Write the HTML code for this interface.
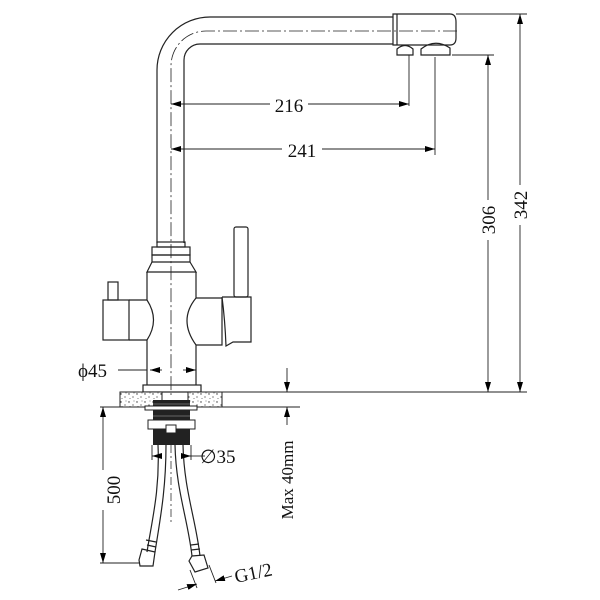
<!DOCTYPE html>
<html><head><style>
html,body{margin:0;padding:0;background:#fff;}
svg{display:block;}
text{font-family:"Liberation Serif",serif;fill:#111;}
</style></head><body>
<svg width="600" height="600" viewBox="0 0 600 600" xmlns="http://www.w3.org/2000/svg">
<defs>
<marker id="a" viewBox="0 0 10 6" refX="10" refY="3" markerWidth="10" markerHeight="6" orient="auto-start-reverse" markerUnits="userSpaceOnUse"><path d="M0,0 L10,3 L0,6 z" fill="#000"/></marker>
<pattern id="sp" width="8" height="8" patternUnits="userSpaceOnUse"><rect width="8" height="8" fill="#fff"/><circle cx="1" cy="2" r="0.7" fill="#333"/><circle cx="5" cy="5" r="0.6" fill="#333"/><circle cx="6" cy="1" r="0.5" fill="#555"/><circle cx="2" cy="6.5" r="0.5" fill="#555"/></pattern>
</defs>
<g fill="none" stroke="#222" stroke-width="1.2">
<!-- spout -->
<path d="M393,17 H210 A53,53 0 0 0 157,70 V243"/>
<path d="M393,44 H200 A16,16 0 0 0 184,60 V243"/>
<path d="M457,31 H206 A35,35 0 0 0 171,66 V395" stroke-dasharray="14,3,2,3" stroke-width="0.8"/>
<!-- head -->
<path d="M393,14 H450 Q456,14 456,22 V38 Q456,45 450,45 H393 Z"/>
<line x1="397" y1="14" x2="397" y2="45"/>
<path d="M397,55 V49 Q405,42 413,49 V55 Z"/>
<path d="M421,55 V49 Q435,38 450,48 V55 Z"/>
<!-- collar -->
<rect x="157" y="242" width="28" height="5"/>
<rect x="152" y="247" width="38" height="8"/>
<path d="M152,255 H190 V262 H152 Z"/>
<path d="M152,262 L147,272 H196 L190,262"/>
<!-- body -->
<path d="M147,272 V300 Q160,320 147,340 V385"/>
<path d="M196,272 V298 Q178,320 196,345 V385"/>
<!-- left arm -->
<rect x="103" y="300" width="26" height="40"/>
<path d="M129,300 H147 M129,340 H147"/>
<rect x="108" y="282" width="10" height="18"/>
<!-- right arm -->
<path d="M196,298 H222 V345 H196"/>
<path d="M222,297 H251 V342 H233 L226,346 Q225,320 222,297"/>
<rect x="234" y="227" width="14" height="70" rx="2"/>
<!-- base plate -->
<rect x="143" y="385" width="58" height="7"/>
</g>
<!-- countertop -->
<rect x="120" y="392" width="42" height="15" fill="url(#sp)" stroke="#222"/>
<rect x="188" y="392" width="34" height="15" fill="url(#sp)" stroke="#222"/>
<!-- mounting -->
<rect x="153" y="400" width="37" height="20" fill="#222"/>
<line x1="153" y1="404" x2="190" y2="404" stroke="#666"/>
<line x1="153" y1="410" x2="190" y2="410" stroke="#666"/>
<line x1="153" y1="416" x2="190" y2="416" stroke="#666"/>
<rect x="145" y="406" width="52" height="4" fill="#fff" stroke="#222"/>
<rect x="148" y="420" width="47" height="9" fill="#fff" stroke="#222"/>
<rect x="153" y="429" width="37" height="16" fill="#222"/>
<rect x="166" y="425" width="10" height="8" fill="#fff" stroke="#222"/>
<g fill="none" stroke="#222" stroke-width="1.2">
<!-- hoses -->
<path d="M158,445 C160,490 152,520 147,552"/>
<path d="M166,445 C166,490 160,520 155,552"/>
<path d="M175,445 C176,490 188,520 192,556"/>
<path d="M183,445 C184,490 196,520 200,556"/>
<path d="M139,560 L142,549 L155,552 L153,566 L140,566 Z"/>
<path d="M189,561 L192,556 L204,555 L208,568 L195,572 Z"/>
<path d="M146,540 L156,542 M147,545 L156,547 M191,545 L199,544 M191,550 L200,549"/>
</g>
<line x1="171" y1="445" x2="171" y2="525" stroke="#333" stroke-width="0.8" stroke-dasharray="8,3,2,3"/>
<!-- dimensions -->
<g stroke="#222" stroke-width="0.9" fill="none">
<line x1="409" y1="55" x2="409" y2="106"/>
<line x1="435" y1="57" x2="435" y2="155"/>
<line x1="171" y1="104" x2="270" y2="104" marker-start="url(#a)"/>
<line x1="308" y1="104" x2="409" y2="104" marker-end="url(#a)"/>
<line x1="171" y1="149" x2="282" y2="149" marker-start="url(#a)"/>
<line x1="322" y1="149" x2="435" y2="149" marker-end="url(#a)"/>
<line x1="456" y1="14" x2="527" y2="14"/>
<line x1="452" y1="55" x2="494" y2="55"/>
<line x1="201" y1="392" x2="527" y2="392"/>
<line x1="488" y1="55" x2="488" y2="200" marker-start="url(#a)"/>
<line x1="488" y1="240" x2="488" y2="392" marker-end="url(#a)"/>
<line x1="520" y1="14" x2="520" y2="185" marker-start="url(#a)"/>
<line x1="520" y1="225" x2="520" y2="392" marker-end="url(#a)"/>
<!-- phi45 -->
<line x1="118" y1="370" x2="147" y2="370"/>
<line x1="150" y1="370" x2="162" y2="370" marker-start="url(#a)"/>
<line x1="183" y1="370" x2="196" y2="370" marker-end="url(#a)"/>
<!-- max 40 -->
<line x1="222" y1="407" x2="300" y2="407"/>
<line x1="287" y1="368" x2="287" y2="392" marker-end="url(#a)"/>
<line x1="287" y1="425" x2="287" y2="407" marker-end="url(#a)"/>
<!-- 500 -->
<line x1="100" y1="407" x2="145" y2="407"/>
<line x1="100" y1="563" x2="140" y2="563"/>
<line x1="103" y1="407" x2="103" y2="470" marker-start="url(#a)"/>
<line x1="103" y1="510" x2="103" y2="563" marker-end="url(#a)"/>
<!-- phi35 -->
<line x1="152" y1="445" x2="152" y2="460"/>
<line x1="191" y1="445" x2="191" y2="460"/>
<line x1="152" y1="456" x2="162" y2="456" marker-start="url(#a)"/>
<line x1="181" y1="456" x2="191" y2="456" marker-end="url(#a)"/>
<line x1="191" y1="456" x2="205" y2="456"/>
<!-- G1/2 -->
<line x1="190" y1="570" x2="197" y2="588"/>
<line x1="209" y1="565" x2="216" y2="583"/>
<line x1="178" y1="590" x2="197" y2="584" marker-end="url(#a)"/>
<line x1="232" y1="576" x2="215" y2="581" marker-end="url(#a)"/>
</g>
<text x="289" y="112" font-size="19" text-anchor="middle">216</text>
<text x="302" y="157" font-size="19" text-anchor="middle">241</text>
<text transform="translate(495,220) rotate(-90)" font-size="19" text-anchor="middle">306</text>
<text transform="translate(527,205) rotate(-90)" font-size="19" text-anchor="middle">342</text>
<text x="78" y="377" font-size="19">ϕ45</text>
<text x="200" y="463" font-size="19">∅35</text>
<text transform="translate(120,490) rotate(-90)" font-size="19" text-anchor="middle">500</text>
<text transform="translate(293,480) rotate(-90)" font-size="17" text-anchor="middle">Max  40mm</text>
<text transform="translate(236,583) rotate(-12)" font-size="19">G1/2</text>
</svg>
</body></html>
